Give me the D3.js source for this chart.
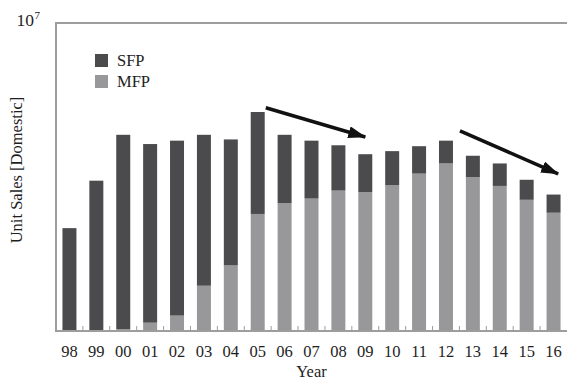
<!DOCTYPE html>
<html>
<head>
<meta charset="utf-8">
<script src="https://cdn.jsdelivr.net/npm/d3@7"></script>
<style>
    body { margin: 0; background: #fff; }
    text { font-family: "Liberation Serif", "Times New Roman", serif; fill: #1e1e1e; }
</style>
</head>
<body>
<div id="chart"></div>
<script>
// data (units sold)
const years = ["98", "99", "00", "01", "02", "03", "04", "05", "06", "07", "08", "09", "10", "11", "12", "13", "14", "15", "16"];
const mfp = [0, 0.02e6, 0.06e6, 0.27e6, 0.50e6, 1.47e6, 2.13e6, 3.80e6, 4.15e6, 4.30e6, 4.56e6, 4.51e6, 4.74e6, 5.11e6, 5.44e6, 5.00e6, 4.71e6, 4.26e6, 3.84e6];
const total = [3.34e6, 4.88e6, 6.37e6, 6.07e6, 6.18e6, 6.37e6, 6.22e6, 7.11e6, 6.37e6, 6.18e6, 6.03e6, 5.74e6, 5.84e6, 6.00e6, 6.18e6, 5.69e6, 5.44e6, 4.91e6, 4.43e6];
const sfp = total.map((t, i) => t - mfp[i]);
const seriesNames = ["SFP", "MFP"];

// trend arrows: [year, offset in bands, value]
const arrows = [
    {from: ["05", 0.3, 7.25e6], to: ["09", 0, 6.3e6]},
    {from: ["12", 0.52, 6.5e6], to: ["16", 0.17, 5.1e6]}
];

const width = 567, height = 389;
const margin = {top: 23, right: 0, bottom: 58, left: 56};
const colors = {SFP: "#4b4b4d", MFP: "#98989b"};
const axisColor = "#9d9d9d";
const fs = 16.5;

const svg = d3.select("#chart").append("svg")
    .attr("width", width)
    .attr("height", height);

const x = d3.scaleBand()
    .domain(years)
    .range([margin.left, width - margin.right])
    .padding(0);

const y = d3.scaleLinear()
    .domain([0, 1e7])
    .range([height - margin.bottom, margin.top]);

const barW = x.bandwidth() * 0.52;
const cx = d => x(d) + x.bandwidth() / 2;

// stacked bars
const rows = years.map((yr, i) => ({year: yr, MFP: mfp[i], SFP: sfp[i]}));
const stack = d3.stack().keys(["MFP", "SFP"])(rows);

svg.append("g").selectAll("g")
    .data(stack)
    .join("g")
    .attr("fill", d => colors[d.key])
    .selectAll("rect")
    .data(d => d)
    .join("rect")
    .attr("x", d => cx(d.data.year) - barW / 2)
    .attr("width", barW)
    .attr("y", d => y(d[1]))
    .attr("height", d => y(d[0]) - y(d[1]));

// frame: left, top, bottom
const x0 = margin.left, x1 = width - margin.right;
const yb = y(0), yt = y(1e7);
svg.append("path")
    .attr("d", `M${x1},${yt}H${x0}V${yb}H${x1}`)
    .attr("fill", "none")
    .attr("stroke", axisColor)
    .attr("stroke-width", 2);

// small ticks between categories
svg.append("g").selectAll("line")
    .data(years.slice(1))
    .join("line")
    .attr("x1", d => x(d))
    .attr("x2", d => x(d))
    .attr("y1", yb)
    .attr("y2", yb - 5)
    .attr("stroke", axisColor)
    .attr("stroke-width", 1);

// x labels
const xAxis = d3.axisBottom(x).tickSize(0).tickPadding(14);
const gx = svg.append("g")
    .attr("transform", "translate(0," + yb + ")")
    .call(xAxis);
gx.select(".domain").remove();
gx.selectAll("text")
    .attr("font-family", "Liberation Serif, serif")
    .attr("font-size", fs)
    .attr("fill", "#1e1e1e");

svg.append("text")
    .attr("x", (x0 + x1) / 2)
    .attr("y", 377)
    .attr("text-anchor", "middle")
    .attr("font-size", fs)
    .text("Year");

svg.append("text")
    .attr("transform", "translate(22," + ((yt + yb) / 2 - 7) + ") rotate(-90)")
    .attr("text-anchor", "middle")
    .attr("font-size", fs)
    .text("Unit Sales [Domestic]");

// 10^7 at the top of the axis
svg.append("text")
    .attr("x", 34)
    .attr("y", yt + 3)
    .attr("text-anchor", "end")
    .attr("font-size", 17.5)
    .text("10");
svg.append("text")
    .attr("x", 34.5)
    .attr("y", yt - 4)
    .attr("font-size", 11)
    .text("7");

// legend
const legend = svg.append("g").selectAll("g")
    .data(seriesNames)
    .join("g")
    .attr("transform", (d, i) => "translate(95," + (54 + i * 21) + ")");
legend.append("rect")
    .attr("width", 13)
    .attr("height", 13)
    .attr("fill", d => colors[d]);
legend.append("text")
    .attr("x", 22)
    .attr("y", 11.5)
    .attr("font-size", fs)
    .text(d => d);

// arrows
svg.append("defs").append("marker")
    .attr("id", "head")
    .attr("markerUnits", "userSpaceOnUse")
    .attr("viewBox", "0 0 18 12")
    .attr("markerWidth", 18)
    .attr("markerHeight", 12)
    .attr("refX", 17)
    .attr("refY", 6)
    .attr("orient", "auto")
    .append("path")
    .attr("d", "M0,0L18,6L0,12Z")
    .attr("fill", "#111");

const px = p => cx(p[0]) + p[1] * x.bandwidth();
svg.append("g").selectAll("line")
    .data(arrows)
    .join("line")
    .attr("x1", d => px(d.from))
    .attr("y1", d => y(d.from[2]))
    .attr("x2", d => px(d.to))
    .attr("y2", d => y(d.to[2]))
    .attr("stroke", "#111")
    .attr("stroke-width", 3.5)
    .attr("marker-end", "url(#head)");
</script>
</body>
</html>
